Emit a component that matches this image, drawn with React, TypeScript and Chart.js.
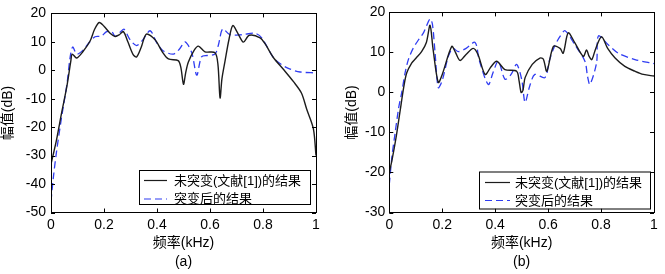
import React, { useEffect, useRef } from "react";
import { Chart, registerables } from "chart.js";

Chart.register(...registerables);

// ---------- data ----------
const seriesNames = ["未突变(文献[1])的结果", "突变后的结果"];

// (a)
const aBlackF = [0, 0.01, 0.021, 0.04, 0.06, 0.075, 0.08, 0.097, 0.12, 0.147, 0.165, 0.182, 0.2, 0.223, 0.242, 0.258, 0.273, 0.29, 0.31, 0.323, 0.34, 0.36, 0.392, 0.42, 0.443, 0.48, 0.49, 0.5, 0.508, 0.518, 0.54, 0.556, 0.581, 0.619, 0.63, 0.638, 0.645, 0.657, 0.672, 0.686, 0.705, 0.726, 0.748, 0.789, 0.81, 0.839, 0.88, 0.915, 0.945, 0.965, 0.99, 1.0];
const aBlackDb = [-33, -29, -24.4, -15, -5.6, 3.4, 5.7, 4.3, 6.5, 10.2, 14.5, 16.8, 15.5, 13, 11.9, 12.5, 13.6, 10, 5.5, 4.7, 8, 12.7, 10.8, 6.5, 4, 3.4, 1, -4.9, -1, 2.8, 7, 8.5, 6.5, 6.2, 2, -9.7, -3, 3.4, 11, 15.7, 13, 9.9, 12.3, 11.4, 9, 4.5, 0, -4, -8, -13.7, -20.5, -30];
const aBlueF = [0, 0.009, 0.021, 0.04, 0.06, 0.072, 0.082, 0.097, 0.12, 0.14, 0.166, 0.19, 0.21, 0.23, 0.242, 0.262, 0.276, 0.298, 0.323, 0.345, 0.374, 0.4, 0.424, 0.462, 0.485, 0.506, 0.531, 0.55, 0.568, 0.59, 0.619, 0.632, 0.648, 0.675, 0.72, 0.77, 0.795, 0.839, 0.87, 0.9, 0.94, 1.0];
const aBlueDb = [-46, -37.6, -28.5, -16.5, -5, 4.5, 8.2, 5.7, 7, 9.3, 11.8, 12, 13.6, 13.5, 11.9, 13.5, 14.4, 10.8, 8.7, 10.5, 13.9, 9.5, 6.8, 5.7, 7.5, 10, 6.2, -1.7, 4.7, 5.2, 5.7, 9, 14.5, 12.5, 12.5, 13, 11.4, 4.5, 2, 0.5, -0.6, -0.9];

// (b)
const bBlackF = [0, 0.01, 0.025, 0.04, 0.055, 0.066, 0.085, 0.1, 0.122, 0.14, 0.154, 0.165, 0.185, 0.2, 0.236, 0.25, 0.267, 0.29, 0.317, 0.335, 0.362, 0.385, 0.406, 0.437, 0.481, 0.49, 0.498, 0.505, 0.513, 0.54, 0.569, 0.582, 0.595, 0.62, 0.645, 0.657, 0.676, 0.7, 0.733, 0.745, 0.755, 0.765, 0.78, 0.802, 0.825, 0.853, 0.89, 0.928, 0.96, 1.0];
const bBlackDb = [-20, -17, -11.5, -5, 1.5, 4.9, 7.4, 8.5, 10.2, 12.5, 16.8, 11, 2.5, 4.5, 11.5, 10, 8, 9.5, 11, 9.5, 4.5, 6.5, 7.8, 5.7, 5.3, 3, 0, 0.5, 3.7, 7, 8.6, 8.3, 5.3, 11.5, 11, 9.8, 14.9, 12.5, 9, 10.6, 9, 8.2, 11, 13.9, 11, 8.6, 6.5, 5.3, 4.5, 4.1];
const bBlueF = [0, 0.01, 0.021, 0.035, 0.047, 0.06, 0.072, 0.09, 0.11, 0.13, 0.154, 0.163, 0.173, 0.185, 0.2, 0.223, 0.24, 0.261, 0.29, 0.324, 0.34, 0.374, 0.392, 0.412, 0.437, 0.46, 0.481, 0.5, 0.513, 0.53, 0.55, 0.588, 0.605, 0.624, 0.645, 0.664, 0.701, 0.739, 0.749, 0.758, 0.783, 0.79, 0.827, 0.865, 0.928, 1.0];
const bBlueDb = [-23, -16, -10.6, -4, 0, 5, 8.2, 11, 13.1, 15, 18.4, 17, 9.8, 1.2, 3, 9, 11, 10.2, 11, 12.5, 8, 2, 5, 7.8, 3.3, 4.5, 7, 3.3, -2.5, 1.5, 4.5, 3.7, 8, 11.5, 14, 15.4, 11.9, 7.8, 4, 2, 7.4, 14.1, 11.9, 9.8, 8.2, 7.2];

const xTitle = "频率(kHz)";
const yTitle = "幅值(dB)";
const panelLabels = ["(a)", "(b)"];

// ---------- styles ----------
const FONT = "Arial, 'Liberation Sans', 'Noto Sans CJK SC', sans-serif";
const BLACK = "#1c1c1c";
const BLUE = "#2f3cf2";

const pts = (f: number[], v: number[]) => f.map((x, i) => ({ x, y: v[i] }));
const fmt = (v: any) => String(Number(Number(v).toFixed(2)));

const frameTicks = {
  id: "frameTicks",
  afterDatasetsDraw(chart: any) {
    const { ctx, chartArea, scales } = chart;
    const { left, right, top, bottom } = chartArea;
    const L = 4;
    ctx.save();
    ctx.strokeStyle = "#000";
    ctx.lineWidth = 1;
    ctx.beginPath();
    scales.x.ticks.forEach((t: any) => {
      const px = Math.round(scales.x.getPixelForValue(t.value)) + 0.5;
      ctx.moveTo(px, bottom);
      ctx.lineTo(px, bottom - L);
      ctx.moveTo(px, top);
      ctx.lineTo(px, top + L);
    });
    scales.y.ticks.forEach((t: any) => {
      const py = Math.round(scales.y.getPixelForValue(t.value)) + 0.5;
      ctx.moveTo(left, py);
      ctx.lineTo(left + L, py);
      ctx.moveTo(right, py);
      ctx.lineTo(right - L, py);
    });
    ctx.stroke();
    ctx.strokeRect(Math.round(left) + 0.5, Math.round(top) + 0.5, Math.round(right - left), Math.round(bottom - top));
    ctx.restore();
  },
};

const boxLegend = {
  id: "boxLegend",
  afterDatasetsDraw(chart: any, _args: any, opts: any) {
    const { ctx } = chart;
    const { x, y, w, h, rows, lineX0, lineX1, textX } = opts;
    ctx.save();
    ctx.fillStyle = "#fff";
    ctx.fillRect(x, y, w, h);
    ctx.strokeStyle = "#000";
    ctx.lineWidth = 1;
    ctx.strokeRect(x + 0.5, y + 0.5, w, h);
    ctx.font = `13px ${FONT}`;
    ctx.textBaseline = "middle";
    chart.data.datasets.forEach((ds: any, i: number) => {
      const ry = rows[i];
      ctx.beginPath();
      ctx.strokeStyle = ds.borderColor;
      ctx.lineWidth = 1.2;
      ctx.setLineDash(ds.borderDash || []);
      ctx.moveTo(lineX0, ry + 0.5);
      ctx.lineTo(lineX1, ry + 0.5);
      ctx.stroke();
      ctx.setLineDash([]);
      ctx.fillStyle = "#000";
      ctx.fillText(ds.label, textX, ry + 1);
    });
    ctx.restore();
  },
};

type PanelCfg = {
  black: { x: number; y: number }[];
  blue: { x: number; y: number }[];
  yMin: number;
  yMax: number;
  label: string;
  padding: { left: number; right: number; top: number; bottom: number };
  yWidth: number;
  yTickPad: number;
  legend: any;
};

function makeConfig(p: PanelCfg): any {
  return {
    type: "line",
    data: {
      datasets: [
        {
          label: seriesNames[0],
          data: p.black,
          borderColor: BLACK,
          borderWidth: 1.4,
          pointRadius: 0,
          tension: 0.3,
          fill: false,
        },
        {
          label: seriesNames[1],
          data: p.blue,
          borderColor: BLUE,
          borderWidth: 1.3,
          borderDash: [7, 4],
          pointRadius: 0,
          tension: 0.3,
          fill: false,
        },
      ],
    },
    options: {
      animation: false,
      responsive: false,
      devicePixelRatio: 1,
      layout: { padding: p.padding },
      plugins: {
        legend: { display: false },
        tooltip: { enabled: false },
        boxLegend: p.legend,
      },
      scales: {
        x: {
          type: "linear",
          min: 0,
          max: 1,
          ticks: {
            stepSize: 0.2,
            color: "#000",
            font: { family: FONT, size: 14 },
            padding: 4,
            maxRotation: 0,
            callback: (v: any) => fmt(v),
          },
          grid: { display: false, drawTicks: false },
          border: { display: false },
          title: {
            display: true,
            text: [xTitle, p.label],
            color: "#000",
            font: { family: FONT, size: 14, lineHeight: 1.36 },
            padding: { top: 0, bottom: 2 },
          },
          afterFit: (s: any) => {
            s.height = 274 - 212.5;
          },
        },
        y: {
          min: p.yMin,
          max: p.yMax,
          ticks: {
            stepSize: 10,
            color: "#000",
            font: { family: FONT, size: 14 },
            padding: p.yTickPad,
            callback: (v: any) => fmt(v),
          },
          grid: { display: false, drawTicks: false },
          border: { display: false },
          title: {
            display: true,
            text: yTitle,
            color: "#000",
            font: { family: FONT, size: 14 },
            padding: { top: 0, bottom: 0 },
          },
          afterFit: (s: any) => {
            s.width = p.yWidth;
          },
        },
      },
    },
    plugins: [frameTicks, boxLegend],
  };
}

function Panel({ cfg, width, left }: { cfg: PanelCfg; width: number; left: number }) {
  const ref = useRef<HTMLCanvasElement | null>(null);
  useEffect(() => {
    if (!ref.current) return;
    const chart = new Chart(ref.current, makeConfig(cfg));
    return () => chart.destroy();
  }, []);
  return (
    <canvas
      ref={ref}
      width={width}
      height={274}
      style={{ position: "absolute", left, top: 0, width, height: 274 }}
    />
  );
}

const panelA: PanelCfg = {
  black: pts(aBlackF, aBlackDb),
  blue: pts(aBlueF, aBlueDb),
  yMin: -50,
  yMax: 20,
  label: panelLabels[0],
  padding: { left: 0, right: 19, top: 8, bottom: 0 },
  yWidth: 51,
  yTickPad: 5,
  legend: { x: 139, y: 170, w: 171, h: 34, rows: [180, 198.5], lineX0: 144, lineX1: 167, textX: 174 },
};

const panelB: PanelCfg = {
  black: pts(bBlackF, bBlackDb),
  blue: pts(bBlueF, bBlueDb),
  yMin: -30,
  yMax: 20,
  label: panelLabels[1],
  padding: { left: 9, right: 11, top: 8.5, bottom: 0 },
  yWidth: 45.3,
  yTickPad: 4,
  legend: { x: 144, y: 171.5, w: 171, h: 37, rows: [182, 200], lineX0: 150, lineX1: 175, textX: 180 },
};

export default function App() {
  useEffect(() => {
    document.body.style.margin = "0";
  }, []);
  return (
    <div style={{ position: "relative", width: 665, height: 274, background: "#fff" }}>
      <Panel cfg={panelA} width={335} left={0} />
      <Panel cfg={panelB} width={330} left={335} />
    </div>
  );
}
